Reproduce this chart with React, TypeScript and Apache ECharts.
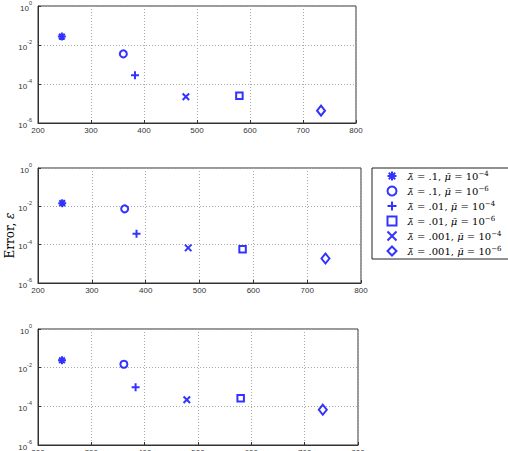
import React, { useEffect, useRef } from "react";
import * as echarts from "echarts";

// Series (legend order)
const lambdaVals = [".1", ".1", ".01", ".01", ".001", ".001"];
const muExps = ["−4", "−6", "−4", "−6", "−4", "−6"];
const markerSymbols = [
  "path://M5,0L5,10M0,5L10,5M1.46,1.46L8.54,8.54M8.54,1.46L1.46,8.54",
  "circle",
  "path://M5,0L5,10M0,5L10,5",
  "rect",
  "path://M0,0L10,10M10,0L0,10",
  "diamond",
];
const markerSizes: (number | number[])[] = [8, 7, 8, 6.5, 6.5, [8, 10]];

// x position of each series' point
const xValues = [245, 361, 383, 580, 479, 734];
// Error values per panel
const errorTop = [0.027, 0.0035, 2.8e-4, 2.5e-5, 2.2e-5, 4.3e-6];
const errorMid = [0.0147, 0.0074, 3.7e-4, 5.7e-5, 6.8e-5, 1.9e-5];
const errorBottom = [0.024, 0.015, 9.8e-4, 2.6e-4, 2.2e-4, 6.7e-5];

// axes
const xMin = 200;
const xMax = 800;
const xStep = 100;
const yMin = 1e-6;
const yMax = 1;
const yExpStep = 2;

const BLUE = "#0000ff";
const SANS = "Liberation Sans, Arial, sans-serif";
const SERIF = "DejaVu Serif, serif";

const seriesNames = lambdaVals.map((l, i) => `λ̄ = ${l}, μ̄ = 10^${muExps[i]}`);

export default function App() {
  const ref = useRef<HTMLDivElement>(null);
  useEffect(() => {
    if (!ref.current) return;
    const chart = echarts.init(ref.current, null, { renderer: "svg" });
    const panels = [errorTop, errorMid, errorBottom];
    const grids = [
      { left: 38, top: 6, width: 318, height: 117 },
      { left: 38, top: 168, width: 323, height: 115 },
      { left: 38, top: 329, width: 320, height: 116 },
    ];
    const xAxes = grids.map((_, p) => ({
      type: "value",
      gridIndex: p,
      min: xMin,
      max: xMax,
      interval: xStep,
      axisLine: { show: true, lineStyle: { color: "#333", width: 1 } },
      axisTick: { show: true, inside: true, length: 3, lineStyle: { color: "#333" } },
      axisLabel: { show: true, fontSize: 8, color: "#333", fontFamily: SANS, margin: 3 },
      splitLine: { show: true, lineStyle: { color: "#a8a8a8", type: [1, 2], width: 1 } },
    }));
    const yAxes = grids.map((_, p) => ({
      type: "log",
      logBase: 10,
      gridIndex: p,
      min: yMin,
      max: yMax,
      interval: yExpStep,
      name: p === 1 ? "Error, {e|ε}" : "",
      nameLocation: "middle",
      nameGap: 22,
      nameMoveOverlap: false,
      nameTextStyle: {
        fontFamily: SERIF,
        fontSize: 12,
        color: "#000",
        padding: [0, 20, 0, 0],
        rich: { e: { fontFamily: SERIF, fontSize: 12, fontStyle: "italic", color: "#000" } },
      },
      axisLine: { show: true, lineStyle: { color: "#333", width: 1 } },
      axisTick: { show: true, inside: true, length: 3, lineStyle: { color: "#333" } },
      axisLabel: {
        show: true,
        margin: 6,
        formatter: (v: number) => `{b|10}{s|${Math.round(Math.log10(v))}}`,
        rich: {
          b: { fontSize: 8, fontFamily: SANS, color: "#333", lineHeight: 12, verticalAlign: "bottom" },
          s: { fontSize: 5.5, fontFamily: SANS, color: "#333", lineHeight: 7, verticalAlign: "top" },
        },
      },
      splitLine: { show: true, lineStyle: { color: "#a8a8a8", type: [1, 2], width: 1 } },
    }));
    const series: any[] = [];
    panels.forEach((vals, p) => {
      vals.forEach((v, i) => {
        series.push({
          type: "scatter",
          name: seriesNames[i],
          xAxisIndex: p,
          yAxisIndex: p,
          data: [[xValues[i], v]],
          symbol: markerSymbols[i],
          symbolSize: markerSizes[i],
          symbolKeepAspect: true,
          itemStyle: { color: "none", borderColor: BLUE, borderWidth: 2 },
          emphasis: { disabled: true },
        });
      });
    });
    chart.setOption({
      animation: false,
      backgroundColor: "#fff",
      grid: grids.map((g) => ({
        ...g,
        show: true,
        borderColor: "#333",
        borderWidth: 1,
        backgroundColor: "#fff",
        containLabel: false,
        outerBoundsMode: "none",
      })),
      xAxis: xAxes,
      yAxis: yAxes,
      legend: {
        data: seriesNames,
        orient: "vertical",
        left: 372,
        top: 168,
        padding: [1, 8, 1, 13],
        itemWidth: 9,
        itemHeight: 9,
        itemGap: 1,
        borderColor: "#222",
        borderWidth: 1,
        backgroundColor: "#fff",
        selectedMode: false,
        itemStyle: { borderWidth: 2 },
        formatter: (name: string) => {
          const i = seriesNames.indexOf(name);
          return `{g|λ̄}{t| = ${lambdaVals[i]}, }{g|μ̄}{t| = 10}{s|${muExps[i]}}`;
        },
        textStyle: {
          padding: [0, 0, 0, 6],
          rich: {
            g: { fontFamily: SERIF, fontSize: 10, fontStyle: "italic", color: "#000", lineHeight: 12 },
            t: { fontFamily: SERIF, fontSize: 10, color: "#000", lineHeight: 12 },
            s: { fontFamily: SERIF, fontSize: 7, color: "#000", lineHeight: 7, verticalAlign: "top" },
          },
        },
      },
      series,
    });
    return () => chart.dispose();
  }, []);
  return (
    <div
      ref={ref}
      style={{ position: "absolute", left: 0, top: 0, width: 508, height: 451 }}
    />
  );
}
